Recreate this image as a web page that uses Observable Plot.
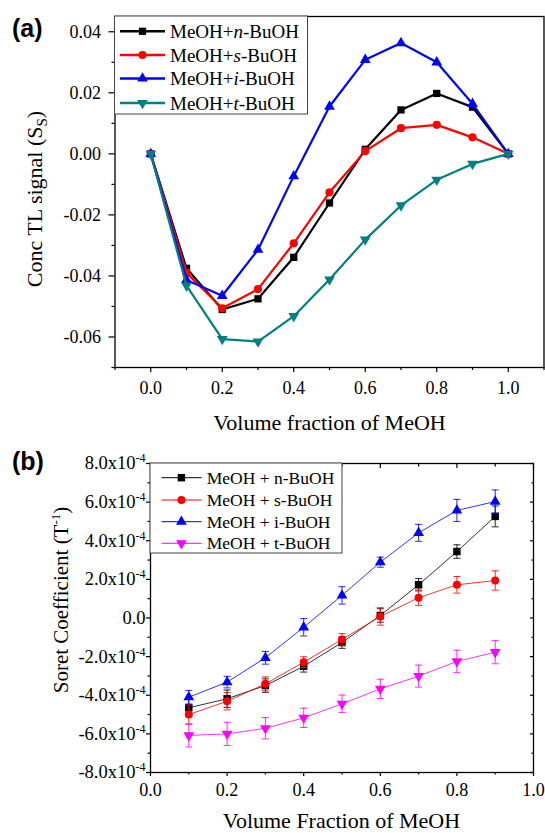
<!DOCTYPE html>
<html><head><meta charset="utf-8">
<script src="https://cdn.jsdelivr.net/npm/d3@7"></script>
<script src="https://cdn.jsdelivr.net/npm/@observablehq/plot@0.6"></script>
<style>
html,body{margin:0;padding:0;background:#fff;}
#wrap{position:relative;width:545px;height:833px;overflow:hidden;}
#wrap svg{display:block;}
</style></head><body><div id="wrap"></div>
<script>
// ---------- Panel (a) data ----------
const fractionA = [0, 0.1, 0.2, 0.3, 0.4, 0.5, 0.6, 0.7, 0.8, 0.9, 1.0];
const nBuOH_A = [0, -0.0375, -0.0510, -0.0475, -0.0339, -0.0161, 0.0015, 0.0144, 0.0198, 0.0153, 0];
const sBuOH_A = [0, -0.0390, -0.0506, -0.0443, -0.0293, -0.0126, 0.0009, 0.0084, 0.0095, 0.0054, 0];
const iBuOH_A = [0, -0.0413, -0.0465, -0.0314, -0.0073, 0.0155, 0.0308, 0.0363, 0.0300, 0.0164, 0];
const tBuOH_A = [0, -0.0432, -0.0607, -0.0615, -0.0532, -0.0412, -0.0281, -0.0169, -0.0085, -0.0033, 0];
const xTicksA = [0, 0.2, 0.4, 0.6, 0.8, 1.0];
const xMinorA = [-0.1, 0.1, 0.3, 0.5, 0.7, 0.9, 1.1];
const yTicksA = [-0.06, -0.04, -0.02, 0, 0.02, 0.04];
const yMinorA = [-0.07, -0.05, -0.03, -0.01, 0.01, 0.03];
const legendA = [["MeOH+", "n", "-BuOH"], ["MeOH+", "s", "-BuOH"], ["MeOH+", "i", "-BuOH"], ["MeOH+", "t", "-BuOH"]];

// ---------- Panel (b) data ----------
const fractionB = [0.1, 0.2, 0.3, 0.4, 0.5, 0.6, 0.7, 0.8, 0.9];
const nBuOH_B = [-4.65e-4, -4.18e-4, -3.50e-4, -2.50e-4, -1.27e-4, 0.13e-4, 1.72e-4, 3.44e-4, 5.26e-4];
const sBuOH_B = [-5.00e-4, -4.31e-4, -3.41e-4, -2.29e-4, -1.11e-4, 0.08e-4, 1.05e-4, 1.72e-4, 1.94e-4];
const iBuOH_B = [-4.10e-4, -3.32e-4, -2.06e-4, -0.48e-4, 1.17e-4, 2.89e-4, 4.41e-4, 5.57e-4, 6.03e-4];
const tBuOH_B = [-6.08e-4, -6.00e-4, -5.71e-4, -5.17e-4, -4.44e-4, -3.67e-4, -3.01e-4, -2.25e-4, -1.77e-4];
const nErr_B = [0.45e-4, 0.45e-4, 0.35e-4, 0.30e-4, 0.30e-4, 0.35e-4, 0.32e-4, 0.35e-4, 0.54e-4];
const sErr_B = [0.50e-4, 0.45e-4, 0.36e-4, 0.28e-4, 0.30e-4, 0.45e-4, 0.40e-4, 0.43e-4, 0.50e-4];
const iErr_B = [0.35e-4, 0.30e-4, 0.33e-4, 0.45e-4, 0.45e-4, 0.26e-4, 0.44e-4, 0.57e-4, 0.60e-4];
const tErr_B = [0.60e-4, 0.60e-4, 0.55e-4, 0.50e-4, 0.45e-4, 0.50e-4, 0.57e-4, 0.58e-4, 0.60e-4];
const xTicksB = [0, 0.2, 0.4, 0.6, 0.8, 1.0];
const xMinorB = [0.1, 0.3, 0.5, 0.7, 0.9];
const yTicksB = [-8e-4, -6e-4, -4e-4, -2e-4, 0, 2e-4, 4e-4, 6e-4, 8e-4];
const yMinorB = [-7e-4, -5e-4, -3e-4, -1e-4, 1e-4, 3e-4, 5e-4, 7e-4];
const legendB = ["MeOH + n-BuOH", "MeOH + s-BuOH", "MeOH + i-BuOH", "MeOH + t-BuOH"];

// ---------- symbols ----------
const triDown = {draw(ctx, size) {
  const s3 = Math.sqrt(3), y = -Math.sqrt(size / (s3 * 3));
  ctx.moveTo(0, -y * 2); ctx.lineTo(-s3 * y, y); ctx.lineTo(s3 * y, y); ctx.closePath();
}};
const capSym = {draw(ctx) { ctx.moveTo(-3.5, 0); ctx.lineTo(3.5, 0); }};
const d3sym = {square: d3.symbolSquare, circle: d3.symbolCircle, triangle: d3.symbolTriangle};

const SERIF = "'Liberation Serif', 'Times New Roman', serif";
const SANS = "'Liberation Sans', Arial, sans-serif";
const wrap = document.getElementById("wrap");

// ---------- Panel (a) ----------
const seriesA = [
  {values: nBuOH_A, color: "#000000", symbol: "square", r: 4.1},
  {values: sBuOH_A, color: "#ff0000", symbol: "circle", r: 4.1},
  {values: iBuOH_A, color: "#0000ff", symbol: "triangle", r: 4.0},
  {values: tBuOH_A, color: "#008080", symbol: triDown, r: 4.0}
];
const marksA = [];
seriesA.forEach(s => {
  const rows = fractionA.map((x, i) => ({x, y: s.values[i]}));
  marksA.push(Plot.line(rows, {x: "x", y: "y", stroke: s.color, strokeWidth: 2.2}));
  marksA.push(Plot.dot(rows, {x: "x", y: "y", symbol: s.symbol, fill: s.color, r: s.r}));
});
const plotA = Plot.plot({
  width: 545, height: 440, marginLeft: 114.5, marginRight: 1.5, marginTop: 16, marginBottom: 73,
  style: {fontFamily: SERIF, fontSize: "18px", background: "transparent", color: "#000"},
  x: {domain: [-0.1, 1.1]},
  y: {domain: [-0.07, 0.045]},
  marks: [
    Plot.axisX(xTicksA, {anchor: "bottom", tickSize: 5, tickPadding: 9, tickFormat: d => d.toFixed(1), label: null, fontSize: 18, strokeWidth: 1.2}),
    Plot.axisX(xMinorA, {anchor: "bottom", tickSize: 3, tickFormat: () => "", label: null, strokeWidth: 1.2}),
    Plot.axisY(yTicksA, {anchor: "left", tickSize: 6, tickPadding: 8, tickFormat: d => d.toFixed(2), label: null, fontSize: 18, strokeWidth: 1.2}),
    Plot.axisY(yMinorA, {anchor: "left", tickSize: 3, tickFormat: () => "", label: null, strokeWidth: 1.2}),
    ...marksA,
    Plot.frame({stroke: "#000", strokeWidth: 1.3})
  ]
});
wrap.appendChild(plotA);
{
  const svg = d3.select(plotA);
  // legend
  const g = svg.append("g").attr("font-family", SERIF).attr("font-size", 19).attr("text-anchor", "start");
  g.append("rect").attr("x", 114.5).attr("y", 16).attr("width", 193).attr("height", 98)
    .attr("fill", "#fff").attr("stroke", "#444").attr("stroke-width", 1);
  const rowsY = [31.3, 55, 78.5, 103];
  seriesA.forEach((s, i) => {
    const y = rowsY[i];
    g.append("line").attr("x1", 120).attr("x2", 165).attr("y1", y).attr("y2", y)
      .attr("stroke", s.color).attr("stroke-width", 2.5);
    const type = typeof s.symbol === "string" ? d3sym[s.symbol] : s.symbol;
    g.append("path").attr("d", d3.symbol(type, Math.PI * s.r * s.r)())
      .attr("transform", `translate(142.5,${y})`).attr("fill", s.color);
    const t = g.append("text").attr("x", 170).attr("y", y + 6.5).attr("fill", "#000").attr("text-anchor", "start");
    t.append("tspan").text(legendA[i][0]);
    t.append("tspan").attr("font-style", "italic").text(legendA[i][1]);
    t.append("tspan").text(legendA[i][2]);
  });
  // axis titles
  const yt = svg.append("text").attr("font-family", SERIF).attr("font-size", 22).attr("fill", "#000")
    .attr("text-anchor", "middle").attr("transform", "translate(42,199) rotate(-90)");
  yt.append("tspan").text("Conc TL signal (S");
  yt.append("tspan").attr("font-size", 15).attr("dy", 5).text("S");
  yt.append("tspan").attr("dy", -5).text(")");
  svg.append("text").attr("font-family", SERIF).attr("font-size", 22).attr("fill", "#000")
    .attr("text-anchor", "middle").attr("x", 329.5).attr("y", 430).text("Volume fraction of MeOH");
  svg.append("text").attr("font-family", SANS).attr("font-weight", "bold").attr("font-size", 25)
    .attr("text-anchor", "start").attr("fill", "#000").attr("x", 12).attr("y", 37).text("(a)");
}

// ---------- Panel (b) ----------
const seriesB = [
  {values: nBuOH_B, errors: nErr_B, color: "#000000", symbol: "square", r: 4.2},
  {values: sBuOH_B, errors: sErr_B, color: "#ff0000", symbol: "circle", r: 4.0},
  {values: iBuOH_B, errors: iErr_B, color: "#0000ff", symbol: "triangle", r: 4.0},
  {values: tBuOH_B, errors: tErr_B, color: "#ff00ff", symbol: triDown, r: 4.0}
];
const marksB = [];
seriesB.forEach(s => {
  const rows = fractionB.map((x, i) => ({x, y: s.values[i], lo: s.values[i] - s.errors[i], hi: s.values[i] + s.errors[i]}));
  marksB.push(Plot.ruleX(rows, {x: "x", y1: "lo", y2: "hi", stroke: s.color, strokeWidth: 1, strokeOpacity: 0.85}));
  marksB.push(Plot.dot(rows, {x: "x", y: "hi", symbol: capSym, stroke: s.color, fill: "none", strokeWidth: 1, strokeOpacity: 0.85}));
  marksB.push(Plot.dot(rows, {x: "x", y: "lo", symbol: capSym, stroke: s.color, fill: "none", strokeWidth: 1, strokeOpacity: 0.85}));
  marksB.push(Plot.line(rows, {x: "x", y: "y", stroke: s.color, strokeWidth: 1, strokeOpacity: 0.8}));
  marksB.push(Plot.dot(rows, {x: "x", y: "y", symbol: s.symbol, fill: s.color, r: s.r}));
});
const sciFmt = d => Math.abs(d) < 1e-12 ? "0.0" : `${(d / 1e-4).toFixed(1)}x10^-4`;
const plotB = Plot.plot({
  width: 545, height: 393, marginLeft: 150, marginRight: 12, marginTop: 23, marginBottom: 61,
  style: {fontFamily: SERIF, fontSize: "18px", background: "transparent", color: "#000"},
  x: {domain: [0, 1]},
  y: {domain: [-8e-4, 8e-4]},
  marks: [
    Plot.axisX(xTicksB, {anchor: "bottom", tickSize: 4, tickPadding: 7, tickFormat: d => d.toFixed(1), label: null, fontSize: 18, strokeWidth: 1.2}),
    Plot.axisX(xMinorB, {anchor: "bottom", tickSize: 2.5, tickFormat: () => "", label: null, strokeWidth: 1.2}),
    Plot.axisX(xTicksB, {anchor: "top", tickSize: -4, tickFormat: () => "", label: null, strokeWidth: 1.2}),
    Plot.axisX(xMinorB, {anchor: "top", tickSize: -2.5, tickFormat: () => "", label: null, strokeWidth: 1.2}),
    Plot.axisY(yTicksB, {anchor: "left", tickSize: 4, tickPadding: 1, tickFormat: sciFmt, label: null, fontSize: 18.5, strokeWidth: 1.2}),
    Plot.axisY(yMinorB, {anchor: "left", tickSize: 2.5, tickFormat: () => "", label: null, strokeWidth: 1.2}),
    Plot.axisY(yTicksB, {anchor: "right", tickSize: -4, tickFormat: () => "", label: null, strokeWidth: 1.2}),
    Plot.axisY(yMinorB, {anchor: "right", tickSize: -2.5, tickFormat: () => "", label: null, strokeWidth: 1.2}),
    ...marksB,
    Plot.frame({stroke: "#000", strokeWidth: 1.3})
  ]
});
wrap.appendChild(plotB);
{
  const svg = d3.select(plotB);
  // superscripts in tick labels
  svg.selectAll("text").each(function() {
    const txt = this.textContent;
    if (txt.includes("^") && this.children.length === 0) {
      const [base, sup] = txt.split("^");
      const el = d3.select(this);
      el.text(null);
      el.append("tspan").text(base);
      el.append("tspan").attr("font-size", 12).attr("dy", -7).text(sup);
    }
  });
  // legend
  const g = svg.append("g").attr("font-family", SERIF).attr("font-size", 17.5).attr("text-anchor", "start");
  g.append("rect").attr("x", 150).attr("y", 23).attr("width", 192).attr("height", 90)
    .attr("fill", "#fff").attr("stroke", "#444").attr("stroke-width", 1);
  const rowsY = [37.7, 60, 81.7, 103.3];
  seriesB.forEach((s, i) => {
    const y = rowsY[i];
    g.append("line").attr("x1", 161.6).attr("x2", 201.6).attr("y1", y).attr("y2", y)
      .attr("stroke", s.color).attr("stroke-width", 1);
    const type = typeof s.symbol === "string" ? d3sym[s.symbol] : s.symbol;
    g.append("path").attr("d", d3.symbol(type, Math.PI * s.r * s.r)())
      .attr("transform", `translate(181.4,${y})`).attr("fill", s.color);
    g.append("text").attr("x", 206.8).attr("y", y + 6).attr("fill", "#000").attr("text-anchor", "start").text(legendB[i]);
  });
  // axis titles
  const yt = svg.append("text").attr("font-family", SERIF).attr("font-size", 21).attr("fill", "#000")
    .attr("text-anchor", "middle").attr("transform", "translate(68,160) rotate(-90)");
  yt.append("tspan").text("Soret Coefficient (T");
  yt.append("tspan").attr("font-size", 13).attr("dy", -8).text("-1");
  yt.append("tspan").attr("dy", 8).text(")");
  svg.append("text").attr("font-family", SERIF).attr("font-size", 22).attr("fill", "#000")
    .attr("text-anchor", "middle").attr("x", 341.5).attr("y", 388).text("Volume Fraction of MeOH");
  svg.append("text").attr("font-family", SANS).attr("font-weight", "bold").attr("font-size", 25)
    .attr("text-anchor", "start").attr("fill", "#000").attr("x", 12).attr("y", 30).text("(b)");
}
</script>
</body></html>
